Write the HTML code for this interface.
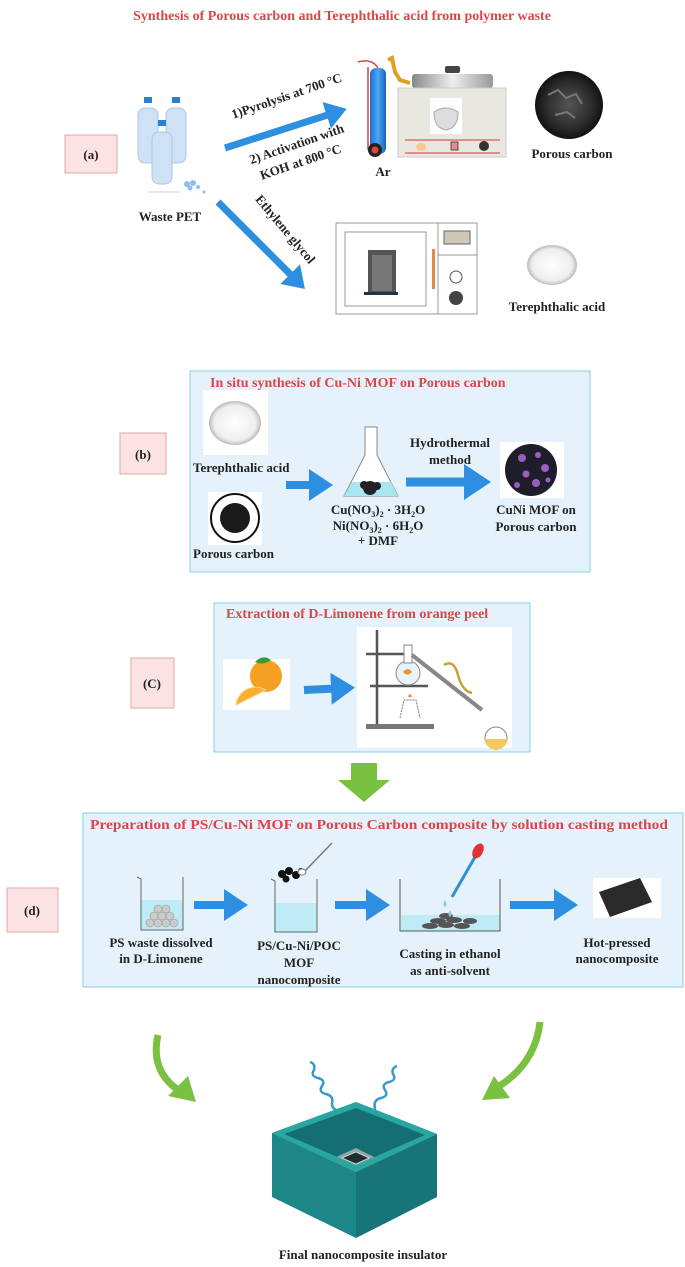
<!DOCTYPE html>
<html><head><meta charset="utf-8"><style>
html,body{margin:0;padding:0;background:#fff;}
svg{display:block;}
text{font-family:"Liberation Serif",serif;font-weight:bold;}
.t{fill:#222;font-size:13px;}
.r{fill:#d9474a;font-size:14px;}
</style></head><body>
<svg width="685" height="1267" viewBox="0 0 685 1267" xmlns="http://www.w3.org/2000/svg">
<defs>
<marker id="ah" markerWidth="4" markerHeight="4" refX="2" refY="2" orient="auto" markerUnits="strokeWidth"><path d="M0,0 L3,2 L0,4 z" fill="#2e8fe0"/></marker>
<linearGradient id="cyl" x1="0" x2="1"><stop offset="0" stop-color="#1e6fd0"/><stop offset=".5" stop-color="#4aa8f0"/><stop offset="1" stop-color="#1a5fb8"/></linearGradient>
<linearGradient id="lid" x1="0" x2="1"><stop offset="0" stop-color="#888"/><stop offset=".5" stop-color="#eee"/><stop offset="1" stop-color="#999"/></linearGradient>
<radialGradient id="pc"><stop offset="0" stop-color="#555"/><stop offset=".7" stop-color="#2a2a2a"/><stop offset="1" stop-color="#111"/></radialGradient>
<radialGradient id="wp"><stop offset="0" stop-color="#fff"/><stop offset=".8" stop-color="#eee"/><stop offset="1" stop-color="#bbb"/></radialGradient>
</defs>

<!-- Title -->
<text class="r" x="342" y="20" text-anchor="middle" font-size="14">Synthesis of Porous carbon and Terephthalic acid from polymer waste</text>

<!-- (a) -->
<rect x="65" y="135" width="52" height="38" fill="#fbe3e3" stroke="#e3a7a7"/>
<text class="t" x="91" y="159" text-anchor="middle" font-size="14">(a)</text>

<!-- bottles -->
<g fill="#cfe2f5" stroke="#a9c8e6" stroke-width="1">
<rect x="138" y="108" width="20" height="55" rx="7"/>
<rect x="166" y="108" width="20" height="55" rx="7"/>
<rect x="152" y="132" width="20" height="52" rx="7"/>
</g>
<g fill="#2d7fd0"><rect x="144" y="97" width="8" height="6"/><rect x="172" y="97" width="8" height="6"/><rect x="158" y="120" width="8" height="6"/></g>
<g fill="#8dbfea"><circle cx="187" cy="184" r="3"/><circle cx="193" cy="183" r="3"/><circle cx="190" cy="188" r="2.5"/><circle cx="198" cy="187" r="2"/><circle cx="204" cy="192" r="1.5"/></g>
<line x1="148" y1="192" x2="180" y2="192" stroke="#ccc"/>
<text class="t" x="170" y="221" text-anchor="middle">Waste PET</text>

<!-- up arrow -->
<line x1="225" y1="148" x2="340" y2="111" stroke="#2e8fe0" stroke-width="7" marker-end="url(#ah)"/>
<text class="t" transform="translate(288,100) rotate(-19)" text-anchor="middle" font-size="12.5">1)Pyrolysis at 700 °C</text>
<text class="t" transform="translate(298,148) rotate(-19)" text-anchor="middle" font-size="12.5">2) Activation with</text>
<text class="t" transform="translate(302,166) rotate(-19)" text-anchor="middle" font-size="12.5">KOH at 800 °C</text>

<!-- cylinder -->
<path d="M358,62 Q372,58 378,68" stroke="#e04444" stroke-width="1.5" fill="none"/>
<rect x="370" y="68" width="16" height="86" rx="6" fill="url(#cyl)"/>
<line x1="368" y1="67" x2="368" y2="150" stroke="#e04444" stroke-width="1.5"/>
<path d="M388,60 L392,58 L395,72 L400,80 L410,83" stroke="#e0a020" stroke-width="4" fill="none"/>
<circle cx="375" cy="150" r="7" fill="#222"/><circle cx="375" cy="150" r="3.5" fill="#e04444"/>
<text class="t" x="383" y="176" text-anchor="middle">Ar</text>

<!-- furnace -->
<rect x="412" y="74" width="81" height="14" rx="3" fill="url(#lid)"/>
<rect x="445" y="66" width="15" height="7" rx="2" fill="#444"/>
<rect x="398" y="88" width="108" height="69" fill="#e8e8e0" stroke="#ccc"/>
<rect x="430" y="98" width="32" height="36" fill="#fff"/>
<path d="M434,112 Q446,104 458,112 Q458,128 446,130 Q434,128 434,112z" fill="#ddd" stroke="#aaa"/>
<line x1="405" y1="140" x2="500" y2="140" stroke="#e07070" stroke-width="1.5"/>
<line x1="405" y1="153" x2="500" y2="153" stroke="#e07070" stroke-width="1.5"/>
<ellipse cx="421" cy="147" rx="5" ry="4" fill="#f5c990"/>
<rect x="451" y="142" width="7" height="8" fill="#e08a90" stroke="#333" stroke-width=".8"/>
<circle cx="484" cy="146" r="5" fill="#333"/>

<!-- porous carbon -->
<circle cx="569" cy="105" r="34" fill="url(#pc)"/>
<path d="M548,95 l10,-5 l8,8 l10,-4 l6,10 M555,115 l12,-3 l8,6" stroke="#777" stroke-width="2" fill="none"/>
<text class="t" x="572" y="158" text-anchor="middle">Porous carbon</text>

<!-- down arrow -->
<line x1="218" y1="202" x2="300" y2="284" stroke="#2e8fe0" stroke-width="7" marker-end="url(#ah)"/>
<text class="t" transform="translate(282,232) rotate(50)" text-anchor="middle" font-size="12.5">Ethylene glycol</text>

<!-- oven -->
<rect x="336" y="223" width="141" height="91" fill="#fff" stroke="#999"/>
<rect x="345" y="232" width="81" height="74" fill="#fff" stroke="#999"/>
<line x1="438" y1="223" x2="438" y2="314" stroke="#999"/>
<line x1="438" y1="255" x2="477" y2="255" stroke="#999"/>
<rect x="444" y="231" width="26" height="13" fill="#cfc8b8" stroke="#666"/>
<rect x="432" y="249" width="3" height="40" fill="#e08a50"/>
<circle cx="456" cy="277" r="6" fill="#fff" stroke="#555"/>
<circle cx="456" cy="298" r="7" fill="#444"/>
<rect x="368" y="250" width="28" height="45" fill="#555"/>
<rect x="372" y="255" width="20" height="36" fill="#777"/>
<rect x="364" y="292" width="34" height="3" fill="#234"/>

<!-- terephthalic -->
<ellipse cx="552" cy="265" rx="25" ry="20" fill="url(#wp)"/>
<text class="t" x="557" y="311" text-anchor="middle">Terephthalic acid</text>

<!-- (b) -->
<rect x="120" y="433" width="46" height="41" fill="#fbe3e3" stroke="#e3a7a7"/>
<text class="t" x="143" y="459" text-anchor="middle" font-size="14">(b)</text>
<rect x="190" y="371" width="400" height="201" fill="#e6f2fb" stroke="#86d3e3"/>
<text class="r" x="210" y="387" font-size="14">In situ synthesis of Cu-Ni MOF on Porous carbon</text>
<rect x="203" y="390" width="65" height="65" fill="#fff"/>
<ellipse cx="235" cy="423" rx="26" ry="22" fill="url(#wp)"/>
<text class="t" x="193" y="472">Terephthalic acid</text>
<rect x="208" y="492" width="54" height="53" fill="#fff"/>
<circle cx="235" cy="518" r="24" fill="#fff" stroke="#111" stroke-width="2"/>
<circle cx="235" cy="518" r="15" fill="#1a1a1a"/>
<text class="t" x="193" y="558">Porous carbon</text>
<line x1="286" y1="485" x2="325" y2="485" stroke="#2e8fe0" stroke-width="8" marker-end="url(#ah)"/>
<!-- flask -->
<path d="M365,427 L377,427 L377,455 L398,496 L344,496 L365,455 Z" fill="#fff" stroke="#888"/>
<path d="M352,482 L391,482 L398,496 L344,496 Z" fill="#a8e6f0"/>
<circle cx="370" cy="488" r="7" fill="#222"/><circle cx="364" cy="485" r="4" fill="#222"/><circle cx="377" cy="486" r="4" fill="#222"/>
<text class="t" x="378" y="514" text-anchor="middle" font-size="12">Cu(NO<tspan font-size="8" dy="3">3</tspan><tspan dy="-3">)</tspan><tspan font-size="8" dy="3">2</tspan><tspan dy="-3"> · 3H</tspan><tspan font-size="8" dy="3">2</tspan><tspan dy="-3">O</tspan></text>
<text class="t" x="378" y="530" text-anchor="middle" font-size="12">Ni(NO<tspan font-size="8" dy="3">3</tspan><tspan dy="-3">)</tspan><tspan font-size="8" dy="3">2</tspan><tspan dy="-3"> · 6H</tspan><tspan font-size="8" dy="3">2</tspan><tspan dy="-3">O</tspan></text>
<text class="t" x="378" y="545" text-anchor="middle" font-size="12">+ DMF</text>
<text class="t" x="450" y="447" text-anchor="middle">Hydrothermal</text>
<text class="t" x="450" y="464" text-anchor="middle">method</text>
<line x1="406" y1="482" x2="482" y2="482" stroke="#2e8fe0" stroke-width="9" marker-end="url(#ah)"/>
<rect x="500" y="442" width="64" height="56" fill="#fff"/>
<circle cx="531" cy="470" r="26" fill="#1e1e2a"/>
<g fill="#9a5ec0"><circle cx="522" cy="458" r="4"/><circle cx="538" cy="455" r="3"/><circle cx="545" cy="468" r="4"/><circle cx="526" cy="474" r="3.5"/><circle cx="536" cy="483" r="4"/><circle cx="517" cy="485" r="3"/><circle cx="548" cy="480" r="2.5"/></g>
<text class="t" x="536" y="514" text-anchor="middle">CuNi MOF on</text>
<text class="t" x="536" y="531" text-anchor="middle">Porous carbon</text>

<!-- (c) -->
<rect x="131" y="658" width="43" height="50" fill="#fbe3e3" stroke="#e3a7a7"/>
<text class="t" x="152" y="688" text-anchor="middle" font-size="14">(C)</text>
<rect x="214" y="603" width="316" height="149" fill="#e6f2fb" stroke="#86d3e3"/>
<text class="r" x="226" y="618" font-size="14">Extraction of D-Limonene from orange peel</text>
<rect x="223" y="659" width="67" height="51" fill="#fff"/>
<circle cx="266" cy="676" r="16" fill="#f5a020"/>
<path d="M236,705 A20,20 0 0 1 266,690 Z" fill="#f7b030" stroke="#fbd080"/>
<path d="M255,662 q8,-8 16,-2 q-8,6 -16,2z" fill="#3a9a3a"/>
<line x1="304" y1="690" x2="347" y2="688" stroke="#2e8fe0" stroke-width="8" marker-end="url(#ah)"/>
<rect x="357" y="627" width="155" height="121" fill="#fff"/>
<g stroke="#555" stroke-width="2.5" fill="none"><line x1="377" y1="630" x2="377" y2="725"/><line x1="366" y1="654" x2="405" y2="654"/><line x1="370" y1="686" x2="428" y2="686"/></g>
<rect x="366" y="724" width="68" height="5" fill="#777"/>
<circle cx="408" cy="673" r="12" fill="#e8f4fb" stroke="#888"/>
<rect x="404" y="645" width="8" height="18" fill="#fff" stroke="#888"/>
<path d="M403,672 q5,-6 9,0 q-5,5 -9,0" fill="#f09030"/>
<line x1="412" y1="655" x2="482" y2="710" stroke="#888" stroke-width="4"/>
<path d="M444,665 q10,-6 14,10 t14,18" stroke="#c8a030" stroke-width="2.5" fill="none"/>
<path d="M400,718 L404,700 L416,700 L420,718" stroke="#777" fill="none" stroke-dasharray="2,1"/>
<path d="M408,697 q2,-6 4,0" fill="#f09030"/>
<circle cx="496" cy="738" r="11" fill="#fff" stroke="#888"/>
<path d="M485,739 A11,11 0 0 0 507,739 Z" fill="#f5c860"/>

<!-- green down arrow -->
<path d="M351,763 L377,763 L377,780 L390,780 L364,802 L338,780 L351,780 Z" fill="#7ac142"/>

<!-- (d) -->
<rect x="7" y="888" width="51" height="44" fill="#fbe3e3" stroke="#e3a7a7"/>
<text class="t" x="32" y="915" text-anchor="middle" font-size="14">(d)</text>
<rect x="83" y="813" width="600" height="174" fill="#e6f2fb" stroke="#86d3e3"/>
<text class="r" x="90" y="829" font-size="13.5" textLength="578" lengthAdjust="spacingAndGlyphs">Preparation of PS/Cu-Ni MOF on Porous Carbon composite by solution casting method</text>
<!-- beaker1 -->
<rect x="140" y="900" width="43" height="30" fill="#bfecf4"/>
<path d="M137,877 L141,879 L141,930 L183,930 L183,877" fill="none" stroke="#666"/>
<g fill="#ccc" stroke="#999" stroke-width=".6"><circle cx="150" cy="923" r="4"/><circle cx="158" cy="923" r="4"/><circle cx="166" cy="923" r="4"/><circle cx="174" cy="923" r="4"/><circle cx="154" cy="916" r="4"/><circle cx="162" cy="916" r="4"/><circle cx="170" cy="916" r="4"/><circle cx="158" cy="909" r="4"/><circle cx="166" cy="909" r="4"/></g>
<text class="t" x="161" y="947" text-anchor="middle">PS waste dissolved</text>
<text class="t" x="161" y="963" text-anchor="middle">in D-Limonene</text>
<line x1="194" y1="905" x2="240" y2="905" stroke="#2e8fe0" stroke-width="8" marker-end="url(#ah)"/>
<!-- beaker2 -->
<rect x="274" y="903" width="43" height="29" fill="#bfecf4"/>
<path d="M271,879 L275,881 L275,932 L317,932 L317,879" fill="none" stroke="#666"/>
<g fill="#111"><circle cx="282" cy="874" r="4"/><circle cx="289" cy="871" r="4"/><circle cx="296" cy="875" r="4"/><circle cx="286" cy="879" r="3.5"/><circle cx="301" cy="871" r="3"/></g>
<line x1="303" y1="873" x2="332" y2="843" stroke="#777" stroke-width="1.5"/><ellipse cx="302" cy="872" rx="4" ry="3" fill="#fff" stroke="#777"/>
<text class="t" x="299" y="950" text-anchor="middle">PS/Cu-Ni/POC</text>
<text class="t" x="299" y="967" text-anchor="middle">MOF</text>
<text class="t" x="299" y="984" text-anchor="middle">nanocomposite</text>
<line x1="335" y1="905" x2="382" y2="905" stroke="#2e8fe0" stroke-width="8" marker-end="url(#ah)"/>
<!-- dish -->
<rect x="401" y="915" width="99" height="16" fill="#bfecf4"/>
<path d="M400,879 L400,931 L500,931 L500,879" fill="none" stroke="#555"/>
<g fill="#555"><ellipse cx="430" cy="926" rx="8" ry="3"/><ellipse cx="446" cy="925" rx="8" ry="3"/><ellipse cx="462" cy="926" rx="8" ry="3"/><ellipse cx="438" cy="921" rx="8" ry="3"/><ellipse cx="454" cy="920" rx="8" ry="3"/><ellipse cx="470" cy="921" rx="7" ry="3"/><ellipse cx="446" cy="916" rx="7" ry="3"/></g>
<line x1="452" y1="897" x2="475" y2="857" stroke="#3090d0" stroke-width="3"/>
<ellipse cx="478" cy="851" rx="5" ry="8" fill="#d33" transform="rotate(28 478 851)"/>
<path d="M445,900 q-3,5 0,7 q3,-2 0,-7" fill="#8cd"/><path d="M450,910 q-3,5 0,7 q3,-2 0,-7" fill="#8cd"/>
<text class="t" x="450" y="958" text-anchor="middle">Casting in ethanol</text>
<text class="t" x="450" y="975" text-anchor="middle">as anti-solvent</text>
<line x1="510" y1="905" x2="570" y2="905" stroke="#2e8fe0" stroke-width="8" marker-end="url(#ah)"/>
<rect x="593" y="878" width="68" height="40" fill="#fff"/>
<path d="M599,892 L640,878 L652,902 L610,917 Z" fill="#2a2a2a"/>
<text class="t" x="617" y="947" text-anchor="middle">Hot-pressed</text>
<text class="t" x="617" y="963" text-anchor="middle">nanocomposite</text>

<!-- curved green arrows -->
<path d="M158,1035 Q150,1070 178,1090" stroke="#7ac142" stroke-width="7" fill="none"/>
<path d="M168,1096 L196,1102 L188,1076 Z" fill="#7ac142"/>
<path d="M540,1022 Q535,1065 496,1088" stroke="#7ac142" stroke-width="7" fill="none"/>
<path d="M482,1100 L510,1098 L494,1076 Z" fill="#7ac142"/>

<!-- waves -->
<path d="M310,1062 q6,2 4,8 q-4,6 4,8 q8,2 4,8 q-4,6 4,8 q8,2 6,10 q0,4 4,6" stroke="#3a9ad0" stroke-width="2.5" fill="none"/>
<path d="M397,1066 q-6,2 -4,8 q4,6 -4,8 q-8,2 -4,8 q4,6 -4,8 q-8,2 -6,10 q0,4 -4,5" stroke="#3a9ad0" stroke-width="2.5" fill="none"/>

<!-- cube -->
<path d="M272,1133 L356,1102 L437,1134 L356,1172 Z" fill="#1f8a8a"/>
<path d="M284,1134 L356,1108 L425,1135 L356,1165 Z" fill="#156e72"/>
<path d="M334,1158 L356,1148 L376,1158 L356,1168 Z" fill="#90a8a8"/>
<path d="M342,1158 L356,1152 L369,1158 L356,1164 Z" fill="#1d2e30" stroke="#ddd" stroke-width=".8"/>
<path d="M272,1133 L356,1172 L356,1238 L272,1197 Z" fill="#1d8686"/>
<path d="M356,1172 L437,1134 L437,1197 L356,1238 Z" fill="#177478"/>
<path d="M272,1133 L356,1102 L437,1134 L356,1172 Z M284,1134 L356,1165 L425,1135 L356,1108 Z" fill="#2aa6a0" fill-rule="evenodd"/>
<text class="t" x="363" y="1259" text-anchor="middle">Final nanocomposite insulator</text>
</svg>
</body></html>
